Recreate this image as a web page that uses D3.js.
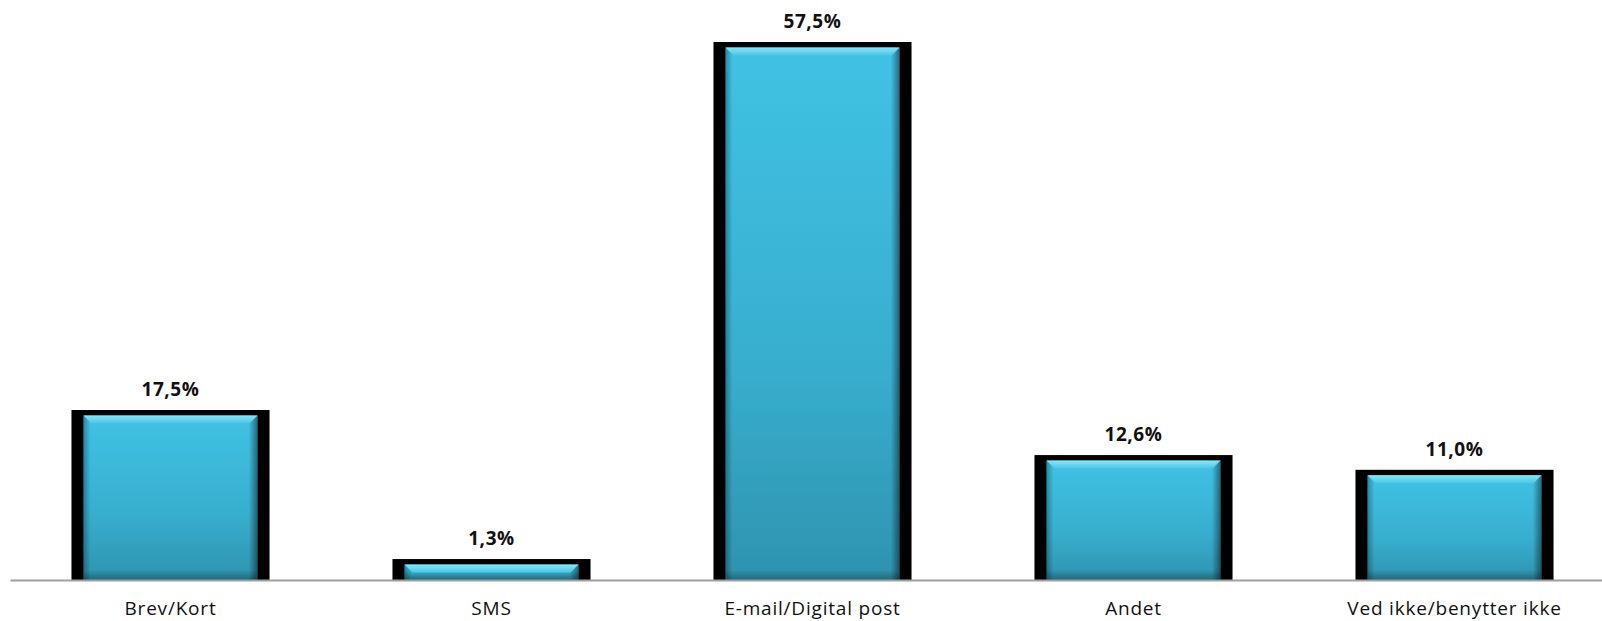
<!DOCTYPE html>
<html>
<head>
<meta charset="utf-8">
<script src="https://cdn.jsdelivr.net/npm/d3@7/dist/d3.min.js"></script>
<style>
  html, body { margin: 0; padding: 0; background: #fff; }
  svg { display: block; }
</style>
</head>
<body>
<svg id="chart" width="1602" height="621"></svg>
<script>
// Share of respondents by preferred contact channel
const categories = ["Brev/Kort", "SMS", "E-mail/Digital post", "Andet", "Ved ikke/benytter ikke"];
const values = [17.5, 1.3, 57.5, 12.6, 11.0];

const W = 1602, H = 621;
const baseline = 580;          // axis line position
const outline = 12;            // black frame thickness on the sides
const topFrame = 5.5;          // black frame thickness on top
const bevel = 8;               // height of the light top bevel

const svg = d3.select("#chart");

const x = d3.scaleBand()
  .domain(categories)
  .range([10, 1615])
  .paddingInner(0.383)
  .paddingOuter(0.1915);

const y = d3.scaleLinear()
  .domain([0, 60])
  .range([571, 19]);

const fmt = v => d3.format(".1f")(v).replace(".", ",") + "%";

// gradients and soft edge filter
const defs = svg.append("defs");
const body = defs.append("linearGradient").attr("id", "bodyGrad")
  .attr("x1", 0).attr("y1", 0).attr("x2", 0).attr("y2", 1);
body.append("stop").attr("offset", "0%").attr("stop-color", "#40c2e4");
body.append("stop").attr("offset", "60%").attr("stop-color", "#38aece");
body.append("stop").attr("offset", "100%").attr("stop-color", "#2e93ae");

const bevelGrad = defs.append("linearGradient").attr("id", "bevelGrad")
  .attr("x1", 0).attr("y1", 0).attr("x2", 0).attr("y2", 1);
bevelGrad.append("stop").attr("offset", "0%").attr("stop-color", "#86e6f8");
bevelGrad.append("stop").attr("offset", "100%").attr("stop-color", "#48c6e6");

const sideGrad = defs.append("linearGradient").attr("id", "sideGrad")
  .attr("x1", 0).attr("y1", 0).attr("x2", 1).attr("y2", 0);
sideGrad.append("stop").attr("offset", "0%").attr("stop-color", "#000").attr("stop-opacity", 0.3);
sideGrad.append("stop").attr("offset", "4%").attr("stop-color", "#000").attr("stop-opacity", 0);
sideGrad.append("stop").attr("offset", "95%").attr("stop-color", "#000").attr("stop-opacity", 0);
sideGrad.append("stop").attr("offset", "100%").attr("stop-color", "#000").attr("stop-opacity", 0.45);

const bottomGrad = defs.append("linearGradient").attr("id", "bottomGrad")
  .attr("x1", 0).attr("y1", 0).attr("x2", 0).attr("y2", 1);
bottomGrad.append("stop").attr("offset", "0%").attr("stop-color", "#000").attr("stop-opacity", 0);
bottomGrad.append("stop").attr("offset", "100%").attr("stop-color", "#000").attr("stop-opacity", 0.3);

defs.append("filter").attr("id", "soft")
  .append("feGaussianBlur").attr("stdDeviation", 0.6);

const data = categories.map((c, i) => ({ c, v: values[i] }));

const bars = svg.append("g").selectAll("g.bar")
  .data(data)
  .join("g")
  .attr("class", "bar");

// black frame
bars.append("rect")
  .attr("x", d => x(d.c))
  .attr("y", d => y(d.v))
  .attr("width", x.bandwidth())
  .attr("height", d => baseline - y(d.v))
  .attr("fill", "#000");

const face = bars.append("g").attr("filter", "url(#soft)");

// coloured face
face.append("rect")
  .attr("x", d => x(d.c) + outline)
  .attr("y", d => y(d.v) + topFrame)
  .attr("width", x.bandwidth() - 2 * outline)
  .attr("height", d => baseline - y(d.v) - topFrame)
  .attr("fill", "url(#bodyGrad)");

// darkened side edges
face.append("rect")
  .attr("x", d => x(d.c) + outline)
  .attr("y", d => y(d.v) + topFrame)
  .attr("width", x.bandwidth() - 2 * outline)
  .attr("height", d => baseline - y(d.v) - topFrame)
  .attr("fill", "url(#sideGrad)");

// darker foot of the bar
face.append("rect")
  .attr("x", d => x(d.c) + outline)
  .attr("y", baseline - 10)
  .attr("width", x.bandwidth() - 2 * outline)
  .attr("height", 10)
  .attr("fill", "url(#bottomGrad)");

// light top bevel
face.append("path")
  .attr("d", d => {
    const x0 = x(d.c) + outline, x1 = x(d.c) + x.bandwidth() - outline;
    const t = y(d.v) + topFrame;
    const b = Math.min(bevel, baseline - t);
    return `M${x0},${t}L${x1},${t}L${x1 - b},${t + b}L${x0 + b},${t + b}Z`;
  })
  .attr("fill", "url(#bevelGrad)");

// value labels
svg.append("g").selectAll("text")
  .data(data)
  .join("text")
  .attr("x", d => x(d.c) + x.bandwidth() / 2)
  .attr("y", d => y(d.v) - 14)
  .attr("text-anchor", "middle")
  .attr("font-family", "'Open Sans', sans-serif")
  .attr("font-weight", 700)
  .attr("font-size", 19)
  .attr("letter-spacing", 0.6)
  .attr("fill", "#111")
  .text(d => fmt(d.v));

// category axis
const axis = svg.append("g")
  .attr("transform", `translate(0,${baseline})`)
  .call(d3.axisBottom(x).tickSize(0).tickSizeOuter(0).tickPadding(22));

axis.select(".domain")
  .attr("stroke", "#a0a0a0")
  .attr("stroke-width", 2);

axis.selectAll("text")
  .attr("font-family", "'Open Sans', sans-serif")
  .attr("font-size", 19)
  .attr("letter-spacing", 0.8)
  .attr("fill", "#111");
</script>
</body>
</html>
